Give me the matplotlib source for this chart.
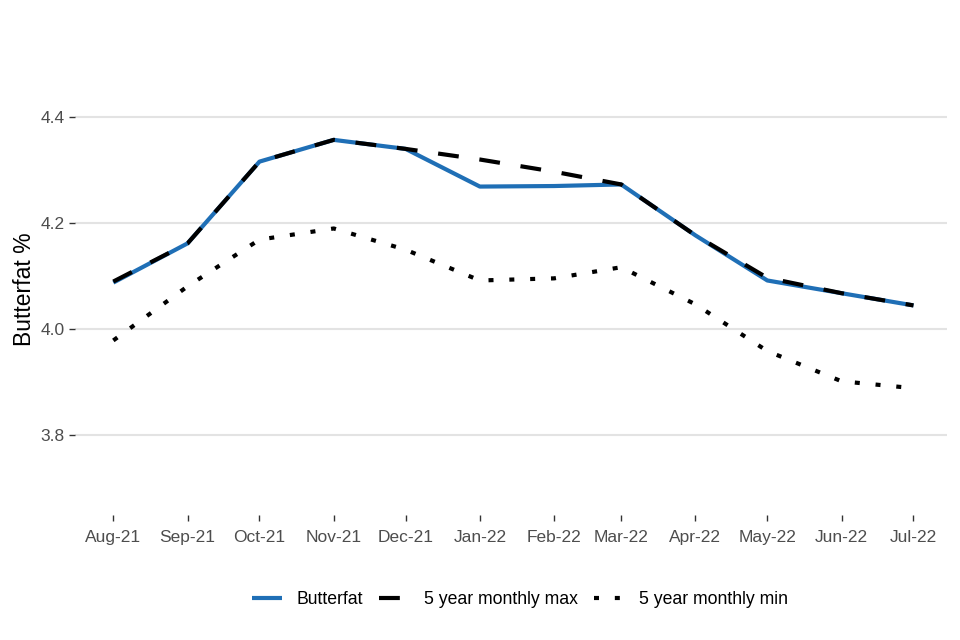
import matplotlib
matplotlib.use("Agg")
import matplotlib.pyplot as plt
import pandas as pd

plt.rcParams['font.family'] = ['Liberation Sans', 'DejaVu Sans']

# data
months = pd.date_range("2021-08-01", "2022-07-01", freq="MS")
month_labels = ["Aug-21", "Sep-21", "Oct-21", "Nov-21", "Dec-21", "Jan-22",
                "Feb-22", "Mar-22", "Apr-22", "May-22", "Jun-22", "Jul-22"]
butterfat = [4.088, 4.162, 4.316, 4.357, 4.340, 4.269,
             4.270, 4.273, 4.177, 4.092, 4.068, 4.045]
max_5yr = [4.090, 4.162, 4.316, 4.357, 4.340, 4.320,
           4.297, 4.273, 4.177, 4.097, 4.068, 4.045]
min_5yr = [3.979, 4.081, 4.169, 4.190, 4.150, 4.092,
           4.096, 4.117, 4.047, 3.959, 3.902, 3.889]
y_ticks = [3.8, 4.0, 4.2, 4.4]

fig = plt.figure(figsize=(9.6, 6.4), dpi=100)
ax = fig.add_axes([75/960, 1 - 515/640, 872/960, 451/640])

ax.plot(months, butterfat, color="#1F6FB6", lw=3, solid_capstyle="butt",
        label="Butterfat", zorder=3)
ax.plot(months, max_5yr, color="black", lw=3, dashes=(5, 5),
        dash_capstyle="butt", label="5 year monthly max", zorder=4)
ax.plot(months, min_5yr, color="black", lw=3, dashes=(1.2, 3.8),
        dash_capstyle="butt", label="5 year monthly min", zorder=4)

ax.set_xlim(months[0] - pd.Timedelta(days=16), months[-1] + pd.Timedelta(days=14))
ax.set_ylim(3.65, 4.5)
ax.set_xticks(months)
ax.set_xticklabels(month_labels)
ax.set_yticks(y_ticks)
ax.set_yticklabels([f"{v:.1f}" for v in y_ticks])

ax.grid(axis="y", color="#e3e3e3", lw=1.5)
ax.set_axisbelow(True)
for s in ax.spines.values():
    s.set_visible(False)
ax.tick_params(axis="both", colors="#333333", labelcolor="#4d4d4d",
               labelsize=12.5, length=4, width=1)
ax.tick_params(axis="x", pad=7)
ax.set_ylabel("Butterfat %", fontsize=16.5, color="black", labelpad=3)

fig.legend(loc="center", bbox_to_anchor=(520/960, 1 - 600/640), ncol=3,
           frameon=False, fontsize=12.7, handlelength=1.7, columnspacing=0.9,
           handletextpad=0.85)

fig.savefig("out.png", dpi=100)
